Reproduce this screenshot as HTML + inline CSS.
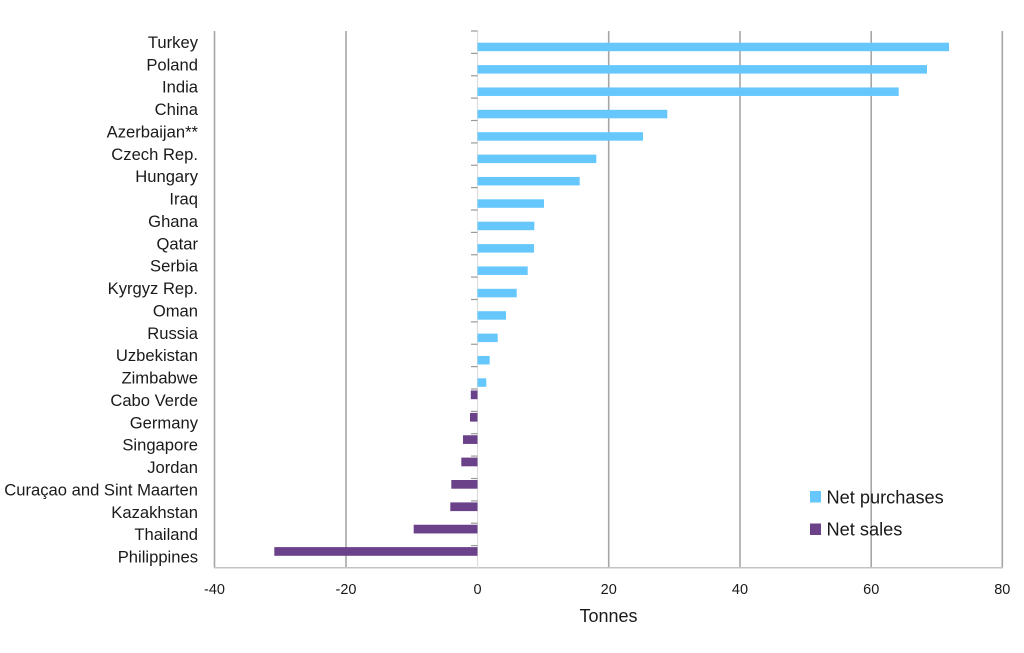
<!DOCTYPE html>
<html><head><meta charset="utf-8"><style>
html,body{margin:0;padding:0;background:#fff;}
svg{display:block;font-family:"Liberation Sans",sans-serif;}
</style></head><body>
<svg width="1024" height="653" viewBox="0 0 1024 653" xmlns="http://www.w3.org/2000/svg">
<rect width="1024" height="653" fill="#fff"/>
<!-- gridlines -->
<g stroke="#a6a6a6" stroke-width="1.6">
<line x1="214.5" y1="31" x2="214.5" y2="568"/>
<line x1="346" y1="31" x2="346" y2="568"/>
<line x1="608.7" y1="31" x2="608.7" y2="568"/>
<line x1="740" y1="31" x2="740" y2="568"/>
<line x1="871.2" y1="31" x2="871.2" y2="568"/>
<line x1="1002.3" y1="31" x2="1002.3" y2="568"/>
</g>
<line x1="214" y1="567.8" x2="1003" y2="567.8" stroke="#c4c4c4" stroke-width="1.5"/>
<line x1="477.5" y1="31" x2="477.5" y2="568" stroke="#dcdcdc" stroke-width="1.2"/>
<!-- ticks on zero axis -->
<g stroke="#9a9a9a" stroke-width="1.2">
<line x1="471" y1="31" x2="477.5" y2="31"/>
<line x1="471" y1="53.4" x2="477.5" y2="53.4"/>
<line x1="471" y1="75.75" x2="477.5" y2="75.75"/>
<line x1="471" y1="98.1" x2="477.5" y2="98.1"/>
<line x1="471" y1="120.5" x2="477.5" y2="120.5"/>
<line x1="471" y1="142.9" x2="477.5" y2="142.9"/>
<line x1="471" y1="165.25" x2="477.5" y2="165.25"/>
<line x1="471" y1="187.6" x2="477.5" y2="187.6"/>
<line x1="471" y1="210" x2="477.5" y2="210"/>
<line x1="471" y1="232.4" x2="477.5" y2="232.4"/>
<line x1="471" y1="254.75" x2="477.5" y2="254.75"/>
<line x1="471" y1="277.1" x2="477.5" y2="277.1"/>
<line x1="471" y1="299.5" x2="477.5" y2="299.5"/>
<line x1="471" y1="321.9" x2="477.5" y2="321.9"/>
<line x1="471" y1="344.25" x2="477.5" y2="344.25"/>
<line x1="471" y1="366.6" x2="477.5" y2="366.6"/>
<line x1="471" y1="389" x2="477.5" y2="389"/>
<line x1="471" y1="411.4" x2="477.5" y2="411.4"/>
<line x1="471" y1="433.75" x2="477.5" y2="433.75"/>
<line x1="471" y1="456.1" x2="477.5" y2="456.1"/>
<line x1="471" y1="478.5" x2="477.5" y2="478.5"/>
<line x1="471" y1="500.9" x2="477.5" y2="500.9"/>
<line x1="471" y1="523.25" x2="477.5" y2="523.25"/>
<line x1="471" y1="545.6" x2="477.5" y2="545.6"/>
</g>
<!-- blue bars (net purchases) -->
<g fill="#66c7fd">
<rect x="477.5" y="42.7" width="471.5" height="8.5"/>
<rect x="477.5" y="65.1" width="449.5" height="8.5"/>
<rect x="477.5" y="87.45" width="421.2" height="8.5"/>
<rect x="477.5" y="109.8" width="189.8" height="8.5"/>
<rect x="477.5" y="132.2" width="165.5" height="8.5"/>
<rect x="477.5" y="154.6" width="118.8" height="8.5"/>
<rect x="477.5" y="176.95" width="102.2" height="8.5"/>
<rect x="477.5" y="199.3" width="66.5" height="8.5"/>
<rect x="477.5" y="221.7" width="56.8" height="8.5"/>
<rect x="477.5" y="244.1" width="56.5" height="8.5"/>
<rect x="477.5" y="266.45" width="50.2" height="8.5"/>
<rect x="477.5" y="288.8" width="39.2" height="8.5"/>
<rect x="477.5" y="311.2" width="28.5" height="8.5"/>
<rect x="477.5" y="333.6" width="20.2" height="8.5"/>
<rect x="477.5" y="355.95" width="12.2" height="8.5"/>
<rect x="477.5" y="378.3" width="8.8" height="8.5"/>
</g>
<!-- purple bars (net sales) -->
<g fill="#6b4189">
<rect x="470.8" y="390.5" width="6.7" height="8.7"/>
<rect x="470" y="412.9" width="7.5" height="8.7"/>
<rect x="463" y="435.25" width="14.5" height="8.7"/>
<rect x="461.3" y="457.6" width="16.2" height="8.7"/>
<rect x="451.3" y="480" width="26.2" height="8.7"/>
<rect x="450.3" y="502.4" width="27.2" height="8.7"/>
<rect x="413.7" y="524.75" width="63.8" height="8.7"/>
<rect x="274.3" y="547.1" width="203.2" height="8.7"/>
</g>
<!-- category labels -->
<g font-size="16.6" fill="#1a1a1a" text-anchor="end">
<text x="198" y="48">Turkey</text>
<text x="198" y="70.4">Poland</text>
<text x="198" y="92.7">India</text>
<text x="198" y="115.1">China</text>
<text x="198" y="137.5">Azerbaijan**</text>
<text x="198" y="159.9">Czech Rep.</text>
<text x="198" y="182.2">Hungary</text>
<text x="198" y="204.6">Iraq</text>
<text x="198" y="227">Ghana</text>
<text x="198" y="249.4">Qatar</text>
<text x="198" y="271.7">Serbia</text>
<text x="198" y="294.1">Kyrgyz Rep.</text>
<text x="198" y="316.5">Oman</text>
<text x="198" y="338.9">Russia</text>
<text x="198" y="361.2">Uzbekistan</text>
<text x="198" y="383.6">Zimbabwe</text>
<text x="198" y="406">Cabo Verde</text>
<text x="198" y="428.4">Germany</text>
<text x="198" y="450.7">Singapore</text>
<text x="198" y="473.1">Jordan</text>
<text x="198" y="495.5">Curaçao and Sint Maarten</text>
<text x="198" y="517.9">Kazakhstan</text>
<text x="198" y="540.2">Thailand</text>
<text x="198" y="562.6">Philippines</text>
</g>
<!-- x tick labels -->
<g font-size="14.5" fill="#1a1a1a" text-anchor="middle">
<text x="214.5" y="594">-40</text>
<text x="346" y="594">-20</text>
<text x="477.5" y="594">0</text>
<text x="608.7" y="594">20</text>
<text x="740" y="594">40</text>
<text x="871.2" y="594">60</text>
<text x="1002.3" y="594">80</text>
</g>
<text x="608.5" y="622" font-size="18" fill="#1a1a1a" text-anchor="middle">Tonnes</text>
<!-- legend -->
<rect x="810" y="491" width="11" height="11.5" fill="#66c7fd"/>
<text x="826.5" y="503.5" font-size="18.2" fill="#1a1a1a">Net purchases</text>
<rect x="810" y="523.5" width="11" height="11.5" fill="#6b4189"/>
<text x="826.5" y="535.5" font-size="18.2" fill="#1a1a1a">Net sales</text>
</svg>
</body></html>
